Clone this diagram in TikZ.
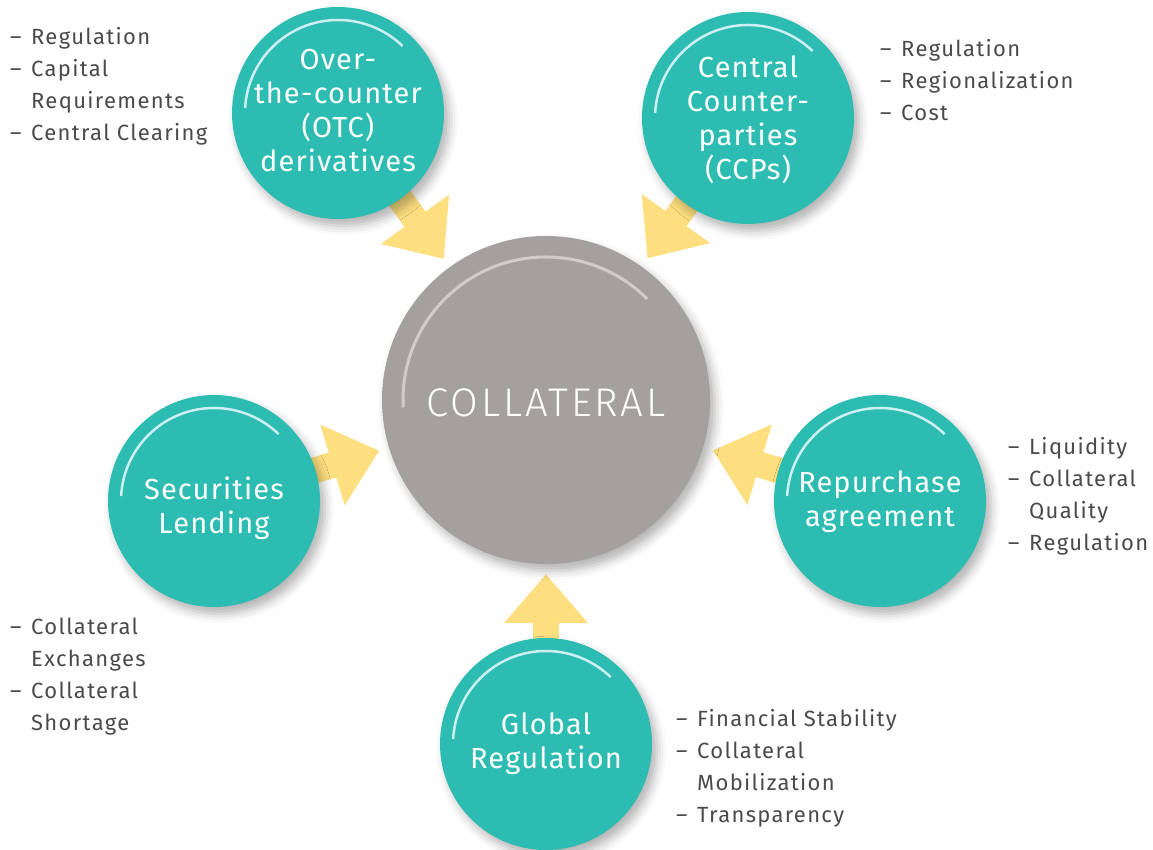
\documentclass[tikz,border=0pt]{standalone}
\usepackage{fontspec}
\setmainfont{Fira Sans}
\newfontfamily\lightfont{Fira Sans Light}[LetterSpace=7]
\newfontfamily\spokefont{Fira Sans}[LetterSpace=4]
\newfontfamily\notefont{Fira Sans}[LetterSpace=6]
\usepackage{tikz}
\usetikzlibrary{arrows.meta, shadows.blur}
\definecolor{hubgray}{HTML}{A4A09F}
\definecolor{spoketeal}{HTML}{2CBCB1}
\definecolor{pushyellow}{HTML}{FDDF80}
\definecolor{notegray}{HTML}{4A4A4A}
\definecolor{gleamteal}{HTML}{CDEFF3}
\definecolor{gleamgray}{HTML}{CFCCCB}
\pgfdeclarelayer{bg}
\pgfsetlayers{bg,main}
\tikzstyle{hub} = [circle, minimum size=328pt, inner sep=0pt, fill=hubgray, blur shadow={shadow xshift=5pt, shadow yshift=-7pt, shadow blur radius=9pt, shadow opacity=30}]
\tikzstyle{spoke} = [circle, minimum size=212pt, inner sep=0pt, fill=spoketeal, blur shadow={shadow xshift=5pt, shadow yshift=-7pt, shadow blur radius=9pt, shadow opacity=30}]
\tikzstyle{hubtext} = [text=white, font=\lightfont\fontsize{40}{48}\selectfont]
\tikzstyle{spoketext} = [text=white, align=center, font=\spokefont\fontsize{29}{34}\selectfont]
\tikzstyle{notes} = [anchor=north west, align=left, inner sep=0pt, text=notegray, font=\notefont\fontsize{22}{32}\selectfont]
\tikzstyle{push} = [draw=pushyellow, line width=26pt, -{Triangle[length=49pt,width=81pt]}, shorten <=-6pt, shorten >=10pt]
\tikzstyle{gleam} = [draw=gleamteal, line width=2.5pt]
\newcommand{\itm}{\makebox[21pt][l]{–}}
\newcommand{\cnt}{\hspace*{21pt}}

\begin{document}
\begin{tikzpicture}[x=1pt, y=1pt]
\useasboundingbox (0,0) rectangle (1153,850);

% Circles
\node (core) [hub] at (546,450) {};
\node (otc) [spoke] at (338,737) {};
\node (ccp) [spoke] at (748,732) {};
\node (seclend) [spoke] at (214,349) {};
\node (repo) [spoke] at (880,349) {};
\node (globreg) [spoke] at (546,106) {};

% Arrows (behind the circles)
\begin{pgfonlayer}{bg}
\foreach \c in {otc,ccp,seclend,repo,globreg}
  \draw [push] (\c) -- (core);
\end{pgfonlayer}

% Highlights
\foreach \c in {otc,ccp,seclend,repo,globreg}
  \draw [gleam] (\c.center) ++(177:93) arc[start angle=177, end angle=46, radius=93];
\draw [gleam, draw=gleamgray, line width=3pt] (core.center) ++(183:143) arc[start angle=183, end angle=45, radius=143];

% Circle texts
\node (core-text) [hubtext, yshift=-3pt] at (core) {COLLATERAL};
\node (otc-text) [spoketext, yshift=2pt] at (otc) {Over-\\the-counter\\(OTC)\\derivatives};
\node (ccp-text) [spoketext, yshift=-2pt] at (ccp) {Central\\Counter-\\parties\\(CCPs)};
\node (seclend-text) [spoketext, yshift=-7pt] at (seclend) {Securities\\Lending};
\node (repo-text) [spoketext, yshift=-1pt] at (repo) {Repurchase\\agreement};
\node (globreg-text) [spoketext] at (globreg) {Global\\Regulation};

% Notes
\node (otc-notes) [notes] at (10,823) {\itm Regulation\\\itm Capital\\\cnt Requirements\\\itm Central Clearing};
\node (ccp-notes) [notes] at (880,811) {\itm Regulation\\\itm Regionalization\\\itm Cost};
\node (repo-notes) [notes] at (1008,413) {\itm Liquidity\\\itm Collateral\\\cnt Quality\\\itm Regulation};
\node (seclend-notes) [notes] at (10,232) {\itm Collateral\\\cnt Exchanges\\\itm Collateral\\\cnt Shortage};
\node (globreg-notes) [notes] at (676,141) {\itm Financial Stability\\\itm Collateral\\\cnt Mobilization\\\itm Transparency};

\end{tikzpicture}
\end{document}
